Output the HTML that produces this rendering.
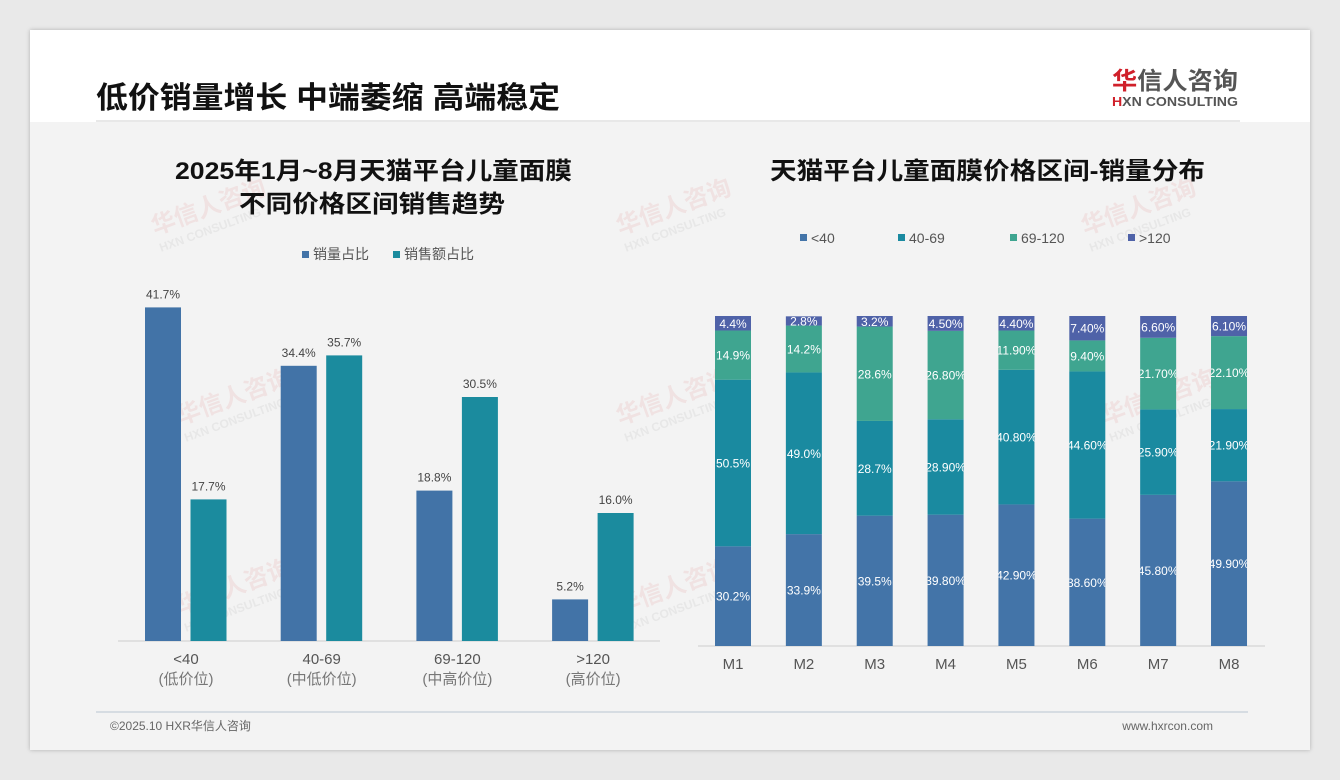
<!DOCTYPE html>
<html><head><meta charset="utf-8">
<style>
html,body{margin:0;padding:0;background:#e9e9e9;}
body{width:1340px;height:780px;position:relative;overflow:hidden;font-family:"Liberation Sans","Noto Sans CJK SC",sans-serif;}
#card{position:absolute;left:30px;top:30px;width:1280px;height:720px;background:#f3f3f3;box-shadow:0 0 4px rgba(0,0,0,.25);}
#hdr{position:absolute;left:0;top:0;width:1280px;height:92px;background:#fff;}
</style></head><body>
<div id="card">
<div id="hdr"></div>
<svg width="1280" height="720" style="position:absolute;left:0;top:0" font-family="Liberation Sans, Noto Sans CJK SC, sans-serif">
  <g opacity="0.07" font-weight="bold">
    <g transform="translate(125,205) rotate(-20)"><text fill="#c00" font-size="24">华信人咨询</text><text y="18" font-size="12" fill="#555">HXN CONSULTING</text></g>
    <g transform="translate(590,205) rotate(-20)"><text fill="#c00" font-size="24">华信人咨询</text><text y="18" font-size="12" fill="#555">HXN CONSULTING</text></g>
    <g transform="translate(1055,205) rotate(-20)"><text fill="#c00" font-size="24">华信人咨询</text><text y="18" font-size="12" fill="#555">HXN CONSULTING</text></g>
    <g transform="translate(150,395) rotate(-20)"><text fill="#c00" font-size="24">华信人咨询</text><text y="18" font-size="12" fill="#555">HXN CONSULTING</text></g>
    <g transform="translate(590,395) rotate(-20)"><text fill="#c00" font-size="24">华信人咨询</text><text y="18" font-size="12" fill="#555">HXN CONSULTING</text></g>
    <g transform="translate(1075,395) rotate(-20)"><text fill="#c00" font-size="24">华信人咨询</text><text y="18" font-size="12" fill="#555">HXN CONSULTING</text></g>
    <g transform="translate(150,585) rotate(-20)"><text fill="#c00" font-size="24">华信人咨询</text><text y="18" font-size="12" fill="#555">HXN CONSULTING</text></g>
    <g transform="translate(590,585) rotate(-20)"><text fill="#c00" font-size="24">华信人咨询</text><text y="18" font-size="12" fill="#555">HXN CONSULTING</text></g>
  </g>
  <text x="66" y="78" font-size="30" font-weight="bold" fill="#111" textLength="464" lengthAdjust="spacingAndGlyphs">低价销量增长 中端萎缩 高端稳定</text>
  <line x1="66" y1="91" x2="1210" y2="91" stroke="#d0d0d0"/>
  <g>
    <text x="1082" y="59" font-size="24" fill="#555" font-weight="bold" textLength="126" lengthAdjust="spacingAndGlyphs"><tspan fill="#d0202a">华</tspan>信人咨询</text>
    <text x="1082" y="76" font-size="13" fill="#555" font-weight="bold" textLength="126" lengthAdjust="spacingAndGlyphs"><tspan fill="#d0202a">H</tspan>XN CONSULTING</text>
  </g>
  <text x="145" y="149" font-size="24" font-weight="bold" fill="#111" textLength="397" lengthAdjust="spacingAndGlyphs">2025年1月~8月天猫平台儿童面膜</text>
  <text x="209" y="182" font-size="24" font-weight="bold" fill="#111" textLength="266" lengthAdjust="spacingAndGlyphs">不同价格区间销售趋势</text>
  <text x="740" y="149" font-size="24" font-weight="bold" fill="#111" textLength="435" lengthAdjust="spacingAndGlyphs">天猫平台儿童面膜价格区间-销量分布</text>
  <line x1="66" y1="682" x2="1218" y2="682" stroke="#b8c4d0"/>
  <text x="80" y="700" font-size="12" fill="#666">©2025.10 HXR华信人咨询</text>
  <text x="1183" y="700" text-anchor="end" font-size="12" fill="#666">www.hxrcon.com</text>
  <g id="left"></g>
  <g id="right"></g>
</svg>
</div>
<script>
const leftCats = ["<40","40-69","69-120",">120"];
const leftSubs = ["(低价位)","(中低价位)","(中高价位)","(高价位)"];
const volShare = [41.7,34.4,18.8,5.2];
const salesShare = [17.7,35.7,30.5,16.0];
const months = ["M1","M2","M3","M4","M5","M6","M7","M8"];
const s40 = [30.2,33.9,39.5,39.8,42.9,38.6,45.8,49.9];
const s4069 = [50.5,49.0,28.7,28.9,40.8,44.6,25.9,21.9];
const s69120 = [14.9,14.2,28.6,26.8,11.9,9.4,21.7,22.1];
const s120 = [4.4,2.8,3.2,4.5,4.4,7.4,6.6,6.1];
const lblFmt = [[ "30.2%","33.9%","39.5%","39.80%","42.90%","38.60%","45.80%","49.90%"],
 ["50.5%","49.0%","28.7%","28.90%","40.80%","44.60%","25.90%","21.90%"],
 ["14.9%","14.2%","28.6%","26.80%","11.90%","9.40%","21.70%","22.10%"],
 ["4.4%","2.8%","3.2%","4.50%","4.40%","7.40%","6.60%","6.10%"]];
const NS="http://www.w3.org/2000/svg";
function mk(t,a,p,txt){const e=document.createElementNS(NS,t);for(const k in a)e.setAttribute(k,a[k]);if(txt!=null)e.textContent=txt;p.appendChild(e);return e;}
const L=document.getElementById('left');
const lBase=611, lScale=8.0;
const lx=i=>156+i*135.7;
const ly=v=>lBase-v*lScale;
let ax=mk('line',{x1:88,y1:lBase,x2:630,y2:lBase,stroke:'#ccc'},L);


let lg=mk('g',{},L);


mk('rect',{x:272,y:221,width:7,height:7,fill:'#4273a7'},lg);
mk('text',{x:283,y:229,'font-size':14,fill:'#555'},lg,'销量占比');
mk('rect',{x:363,y:221,width:7,height:7,fill:'#1b8b9e'},lg);
mk('text',{x:374,y:229,'font-size':14,fill:'#555'},lg,'销售额占比');
leftCats.forEach((c,i)=>{
  const cx=lx(i);
  [[volShare,'#4273a7',-23,'bar-volume-'],[salesShare,'#1b8b9e',22.5,'bar-sales-']].forEach(([arr,col,off,nm])=>{
    const v=arr[i];
    const r=mk('rect',{x:cx+off-18,y:ly(v),width:36,height:v*lScale,fill:col},L);
    
    
    const t=mk('text',{x:cx+off,y:ly(v)-9,'text-anchor':'middle','font-size':12,fill:'#444'},L,v.toFixed(1)+'%');
    
    
  });
  const t1=mk('text',{x:cx,y:634,'text-anchor':'middle','font-size':15,fill:'#555'},L,c);
  
  
  const t2=mk('text',{x:cx,y:654,'text-anchor':'middle','font-size':15,fill:'#777'},L,leftSubs[i]);
  
  
});
const R=document.getElementById('right');
const rBase=616, rH=330;
const rx=i=>703+i*70.86;
const rh=v=>v/100*rH;
const rCols=['#4374a8','#1a8aa0','#3fa590','#4f62a8'];
const rNames=['<40','40-69','69-120','>120'];
const series=[s40,s4069,s69120,s120];
let ax2=mk('line',{x1:668,y1:rBase,x2:1235,y2:rBase,stroke:'#ccc'},R);


const lgx=[770,868,980,1098];
rNames.forEach((n,k)=>{
  const g=mk('g',{},R);
  
  
  mk('rect',{x:lgx[k],y:204,width:7,height:7,fill:rCols[k]},g);
  mk('text',{x:lgx[k]+11,y:213,'font-size':14,fill:'#555'},g,n);
});
const defs=mk('defs',{},R);
months.forEach((m,i)=>{
  const cx=rx(i);
  const cp=mk('clipPath',{id:'cp'+i},defs);
  mk('rect',{x:cx-18,y:0,width:36,height:720},cp);
  let y=rBase;
  series.forEach((arr,k)=>{
    const h=rh(arr[i]); y-=h;
    const r=mk('rect',{x:cx-18,y:y,width:36,height:h,fill:rCols[k]},R);
    
    
    const t=mk('text',{x:cx,y:y+h/2+4.5,'text-anchor':'middle','font-size':12,fill:'#fff','clip-path':'url(#cp'+i+')'},R,lblFmt[k][i]);
    
    
  });
  const tl=mk('text',{x:cx,y:639,'text-anchor':'middle','font-size':15,fill:'#555'},R,m);
  
  
});
</script>
</body></html>
